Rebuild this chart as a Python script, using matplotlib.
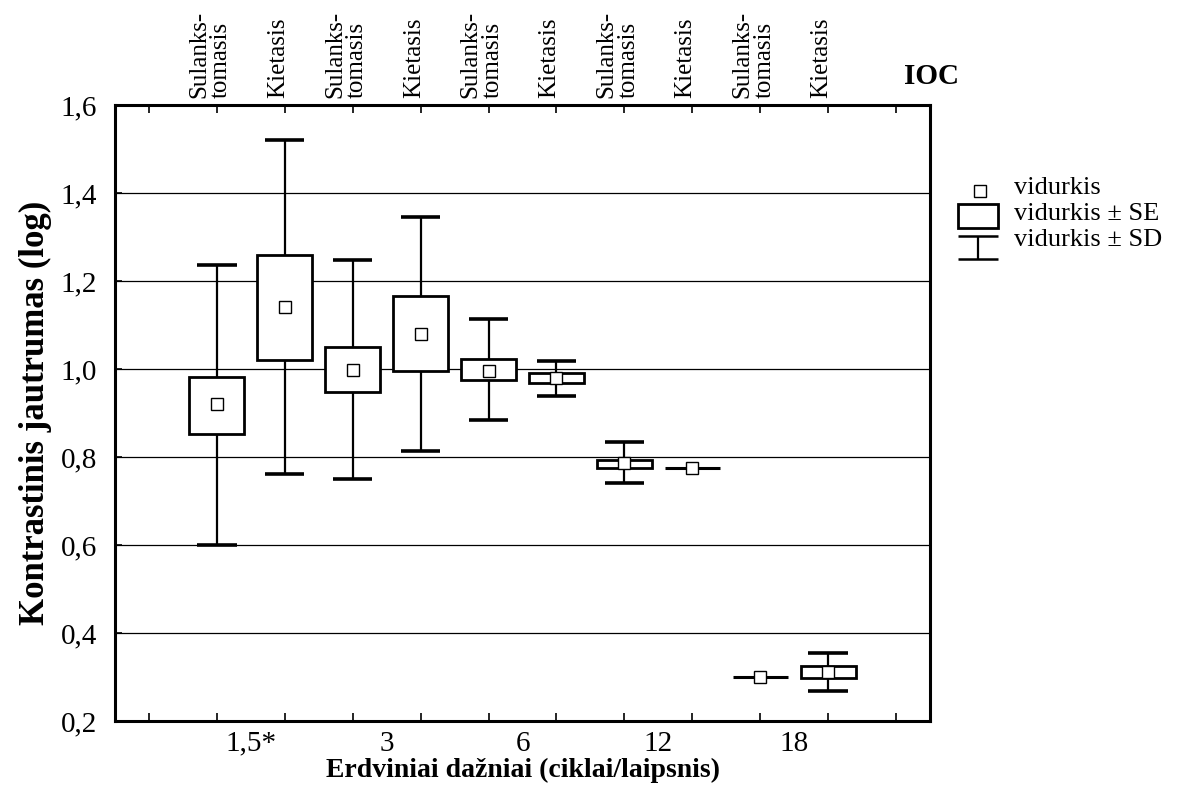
import matplotlib.pyplot as plt
from matplotlib.patches import Rectangle

plt.rcParams['font.family'] = ['Liberation Serif', 'DejaVu Serif']

# data: mean, mean +- SE, mean +- SD
groups = ["Sulanks-\ntomasis", "Kietasis"] * 5
freq_labels = ["1,5*", "3", "6", "12", "18"]
means = [0.920, 1.141, 0.998, 1.080, 0.995, 0.980, 0.786, 0.775, 0.300, 0.311]
se_low = [0.852, 1.020, 0.948, 0.995, 0.975, 0.968, 0.775, 0.775, 0.300, 0.298]
se_high = [0.982, 1.259, 1.050, 1.166, 1.023, 0.991, 0.793, 0.775, 0.300, 0.325]
sd_low = [0.600, 0.761, 0.750, 0.814, 0.884, 0.939, 0.741, 0.775, 0.300, 0.268]
sd_high = [1.236, 1.520, 1.248, 1.345, 1.114, 1.018, 0.834, 0.775, 0.300, 0.355]

fig = plt.figure(figsize=(11.77, 7.87), dpi=100)
ax = fig.add_axes([0.0977, 0.0839, 0.6925, 0.7827])

box_w = 0.81
cap_w = 0.58
xs = list(range(1, len(means) + 1))

for x, m, sl, sh, dl, dh in zip(xs, means, se_low, se_high, sd_low, sd_high):
    # whiskers (SD)
    if dh > sh:
        ax.vlines(x, sh, dh, color='black', lw=1.6, zorder=3)
        ax.hlines(dh, x - cap_w / 2, x + cap_w / 2, color='black', lw=2.6, zorder=3)
    if dl < sl:
        ax.vlines(x, dl, sl, color='black', lw=1.6, zorder=3)
        ax.hlines(dl, x - cap_w / 2, x + cap_w / 2, color='black', lw=2.6, zorder=3)
    # box (SE)
    if sh > sl:
        ax.add_patch(Rectangle((x - box_w / 2, sl), box_w, sh - sl, facecolor='white',
                               edgecolor='black', lw=2.0, zorder=4))
    else:
        ax.hlines(sl, x - box_w / 2, x + box_w / 2, color='black', lw=2.2, zorder=4)
    # mean
    ax.plot(x, m, marker='s', ms=8, mfc='white', mec='black', mew=1.0, zorder=5)

ax.set_xlim(-0.5, 11.5)
ax.set_ylim(0.2, 1.6)
yt = [0.2, 0.4, 0.6, 0.8, 1.0, 1.2, 1.4, 1.6]
ax.set_yticks(yt)
ax.set_yticklabels([f"{v:.1f}".replace('.', ',') for v in yt], fontsize=21)
for v in yt[1:-1]:
    ax.axhline(v, color='black', lw=0.9, zorder=1)

ax.set_xticks(range(0, 12))
ax.set_xticklabels([])
ax.set_xticks([1.5, 3.5, 5.5, 7.5, 9.5], minor=True)
ax.set_xticklabels(freq_labels, minor=True, fontsize=21)
ax.tick_params(axis='x', which='minor', length=0, pad=7)
ax.tick_params(axis='x', which='major', direction='in', length=6, width=1.2,
               top=True, bottom=True)
ax.tick_params(axis='y', direction='in', length=5, width=1.2, pad=13)
for s in ax.spines.values():
    s.set_linewidth(2.2)

ax.set_xlabel("Erdviniai dažniai (ciklai/laipsnis)", fontsize=20, fontweight='bold',
              labelpad=1)
ax.set_ylabel("Kontrastinis jautrumas (log)", fontsize=25, fontweight='bold', labelpad=6)

for x, g in zip(xs, groups):
    ax.text(x - 0.1, 1.012, g, transform=ax.get_xaxis_transform(), rotation=90,
            ha='center', va='bottom', multialignment='left', fontsize=18,
            linespacing=1.0)

ax.text(1.002, 1.025, "IOC", transform=ax.transAxes, ha='center', va='bottom',
        fontsize=21, fontweight='bold')

# legend drawn by hand in pixel space
lg = fig.add_axes([0, 0, 1, 1])
lg.set_xlim(0, 1177)
lg.set_ylim(787, 0)
lg.axis('off')
lg.plot(980, 191, marker='s', ms=8, mfc='white', mec='black', mew=1.0)
lg.add_patch(Rectangle((958, 204), 40, 24, facecolor='white', edgecolor='black', lw=2.0))
lg.hlines([236, 259], 958, 998, color='black', lw=1.8)
lg.vlines(978, 236, 259, color='black', lw=1.6)
lg.text(1014, 188, "vidurkis", fontsize=19, va='center')
lg.text(1014, 214, "vidurkis ± SE", fontsize=19, va='center')
lg.text(1014, 240, "vidurkis ± SD", fontsize=19, va='center')

fig.savefig("out.png", dpi=100)
